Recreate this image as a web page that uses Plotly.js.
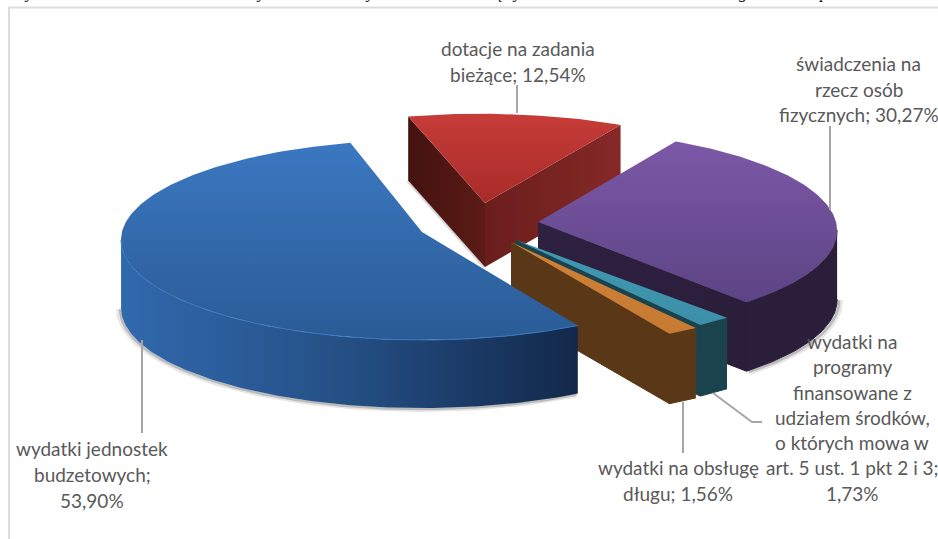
<!DOCTYPE html>
<html><head><meta charset="utf-8">
<script src="https://cdn.plot.ly/plotly-3.0.1.min.js"></script>
<style>html,body{margin:0;padding:0;background:#fff;overflow:hidden}#c{width:938px;height:539px}</style>
</head><body><div id="c"></div>
<script>
// ---- data (clockwise from the first slice) ----
const categories = ["dotacje na zadania bieżące","świadczenia na rzecz osób fizycznych","wydatki na programy finansowane z udziałem środków, o których mowa w art. 5 ust. 1 pkt 2 i 3","wydatki na obsługę długu","wydatki jednostek budzetowych"];
const shares = [12.54, 30.27, 1.73, 1.56, 53.90];
const labelLines = [
  ["dotacje na zadania","bieżące; 12,54%"],
  ["świadczenia na","rzecz osób","fizycznych; 30,27%"],
  ["wydatki na","programy","finansowane z","udziałem środków,","o których mowa w","art. 5 ust. 1 pkt 2 i 3;","1,73%"],
  ["wydatki na obsługę","długu; 1,56%"],
  ["wydatki jednostek","budzetowych;","53,90%"]
];
const clippedHeading = [["y",29],["y",261],["y",370],["ę",500],["y",517],["g",743],["p",824]];

// ---- drawing setup: a tilted pie, one exploded slice per value ----
const rotation = -15, k = 0.08;
const sliceGeom = [
  {cx:485,cy:203,a:300,b:97, skew:.06,h:64},
  {cx:538,cy:222,a:298,b:100,skew:.02,h:69},
  {cx:516,cy:240,a:304,b:97, skew:0,  h:71},
  {cx:511,cy:242,a:305,b:98, skew:0,  h:70},
  {cx:422,cy:232,a:300,b:100,skew:0,  h:68}
];
const sliceStyle = [
  {top:["#a82b29","#c63c38"],edge1:["#43120f","#5c1b16"],edge2:["#6a1e1c","#852927"]},
  {top:["#5c4485","#7c58a6"],edge2:["#2e2140","#2a1e3b"],wall:["#2a1e3b","#2a1e3b"]},
  {top:["#3c8fa8","#4099b4"],edge2:["#1b434d","#1b434d"],wall:["#1b434d","#1b434d"]},
  {top:["#c67a32","#d08136"],edge2:["#5a3717","#5a3717"],wall:["#5a3717","#5a3717"]},
  {top:["#2a5b96","#3b78c1"],wall:["#3069ad","#244f84","#12284a"],rim:"#3a78c0"}
];
const labelStyle = {color:"#595959",size:19,family:"Lato,'Open Sans','Noto Sans',sans-serif"};
const labelPos = [
  {x:518,y:[48,74]},
  {x:858.5,y:[63,89,114]},
  {x:852,y:[341,366,392,417,442,467,493]},
  {x:678,y:[467,493]},
  {x:92,y:[448,474,500]}
];
const leaders = [
  {x:[517,517],y:[85,113]},
  {x:[830,830],y:[126,210]},
  {x:[713,752,762],y:[393,422,422]},
  {x:[683,683],y:[402,453]},
  {x:[142,142],y:[340,433]}
];

const rad = d => d*Math.PI/180;
function pt(g,deg,r,z){
  const s=Math.sin(rad(deg)),c=Math.cos(rad(deg)),f=1-k*c;
  const dy=-g.b*c*f*r;
  return [g.cx+g.a*s*f*r+g.skew*dy, g.cy+dy+(z||0)];
}
function arc(g,from,to,z){
  const n=Math.max(2,Math.ceil(Math.abs(to-from)));const out=[];
  for(let i=0;i<=n;i++) out.push(pt(g,from+(to-from)*i/n,1,z));
  return out;
}
function poly(points,colors,kind,outline){
  const scale=colors.map((c,i)=>[i/(colors.length-1),c]);
  return {type:"scatter",mode:"lines",x:points.map(p=>p[0]),y:points.map(p=>p[1]),
    fill:"toself",line:outline?{width:1,color:colors[colors.length-1]}:{width:0},
    fillgradient:{type:kind,colorscale:scale},hoverinfo:"skip",showlegend:false};
}
function stroke(points,color,width){
  return {type:"scatter",mode:"lines",x:points.map(p=>p[0]),y:points.map(p=>p[1]),
    line:{color:color,width:width},hoverinfo:"skip",showlegend:false};
}

const total = shares.reduce((a,b)=>a+b,0);
let cursor = rotation;
const spans = shares.map(v=>{const s=cursor;cursor+=v/total*360;return [s,cursor];});
const frontR = Math.acos(-k)*180/Math.PI, frontL = 360-frontR;

const shadows=[],bodies=[];
spans.forEach(([s,e],i)=>{
  const g=sliceGeom[i],st=sliceStyle[i],apex=pt(g,0,0);
  if(st.edge1){
    const c=pt(g,s,1);
    bodies.push(poly([apex,c,[c[0],c[1]+g.h],[apex[0],apex[1]+g.h]],st.edge1,"horizontal",false));
    shadows.push(stroke([[c[0],c[1]+g.h],[apex[0],apex[1]+g.h]],"rgba(60,60,60,.2)",4));
  }
  if(st.edge2){
    const c=pt(g,e,1);
    bodies.push(poly([apex,c,[c[0],c[1]+g.h],[apex[0],apex[1]+g.h]],st.edge2,"horizontal",i>0));
  }
  let wf=Math.max(s,frontR), wt=Math.min(e,frontL);
  if(st.wall && wt>wf){
    const top=arc(g,wf,wt,0),bot=arc(g,wt,wf,g.h);
    bodies.push(poly(top.concat(bot),st.wall,"horizontal",i<4));
    if(i===1||i===4){
      const sh=arc(g,wf,wt,g.h+1);
      shadows.push(stroke(sh.map(p=>[p[0]+(i===1?3:-2),p[1]]),"rgba(60,60,60,.13)",6));
      shadows.push(stroke(sh.map(p=>[p[0]+(i===1?2:-1),p[1]]),"rgba(60,60,60,.25)",2.5));
    }
  }
  bodies.push(poly([apex].concat(arc(g,s,e,0)),st.top,"vertical",false));
  if(st.rim) bodies.push(stroke(arc(g,wf,wt,0),st.rim,1));
});

const leaderTraces = leaders.map(l=>stroke(l.x.map((x,i)=>[x,l.y[i]]),"#a6a6a6",2));

const annotations=[];
labelLines.forEach((lines,i)=>lines.forEach((t,j)=>annotations.push({
  xref:"x",yref:"y",x:labelPos[i].x,y:labelPos[i].y[j],text:t,showarrow:false,
  xanchor:"center",yanchor:"middle",font:labelStyle,borderpad:0
})));
clippedHeading.forEach(([t,x])=>annotations.push({
  xref:"x",yref:"y",x:x,y:3,text:"<i>"+t+"</i>",showarrow:false,xanchor:"center",yanchor:"bottom",
  borderpad:0,font:{family:"'Liberation Serif',serif",size:17,color:"#111"}
}));

Plotly.newPlot("c",shadows.concat(bodies,leaderTraces),{
  width:938,height:539,margin:{l:0,r:0,t:0,b:0},paper_bgcolor:"#fff",plot_bgcolor:"#fff",
  showlegend:false,hovermode:false,
  xaxis:{range:[0,938],visible:false,fixedrange:true},
  yaxis:{range:[539,0],visible:false,fixedrange:true},
  shapes:[{type:"path",xref:"x",yref:"y",path:"M 9 539 L 9 7.5 L 938 7.5",line:{color:"#dcdcdc",width:2},layer:"below"}],
  annotations:annotations
},{displayModeBar:false,staticPlot:true});
</script></body></html>
